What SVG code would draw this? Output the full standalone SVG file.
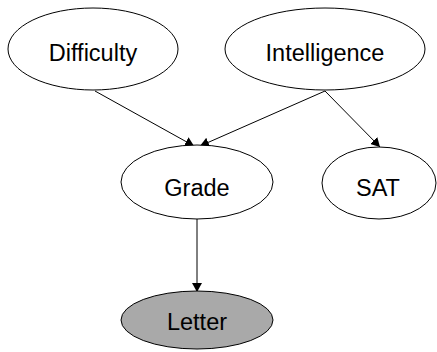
<svg xmlns="http://www.w3.org/2000/svg" width="437" height="352" viewBox="0 0 437 352">
<style>
.n ellipse{fill:#fff;stroke:#000;stroke-width:1}
.n text{font-family:"Liberation Sans",Arial,sans-serif;font-size:23.5px;text-anchor:middle;fill:#000}
.e line{stroke:#000;stroke-width:1;marker-end:url(#ah)}
</style>
<defs>
<marker id="ah" viewBox="0 0 9 10" refX="9" refY="5" markerWidth="9" markerHeight="10" markerUnits="userSpaceOnUse" orient="auto">
<path d="M0,0 L9,5 L0,10 Z" fill="#000"/>
</marker>
</defs>
<rect width="437" height="352" fill="#fff"/>
<g class="e" id="edges">
<line x1="95" y1="91" x2="194" y2="146"/>
<line x1="325" y1="91" x2="200" y2="146"/>
<line x1="325" y1="91" x2="380" y2="147"/>
<line x1="197" y1="219" x2="197" y2="292"/>
</g>
<g class="n" id="Difficulty"><ellipse cx="93" cy="49" rx="85" ry="41"/><text x="93" y="61">Difficulty</text></g>
<g class="n" id="Intelligence"><ellipse cx="325" cy="49" rx="100" ry="41"/><text x="325" y="61">Intelligence</text></g>
<g class="n" id="Grade"><ellipse cx="197" cy="182" rx="76" ry="37"/><text x="197" y="196">Grade</text></g>
<g class="n" id="SAT"><ellipse cx="379" cy="183" rx="57" ry="36"/><text x="378" y="196">SAT</text></g>
<g class="n" id="Letter"><ellipse cx="197" cy="320" rx="76" ry="29" style="fill:#a9a9a9"/><text x="197" y="330">Letter</text></g>
</svg>
